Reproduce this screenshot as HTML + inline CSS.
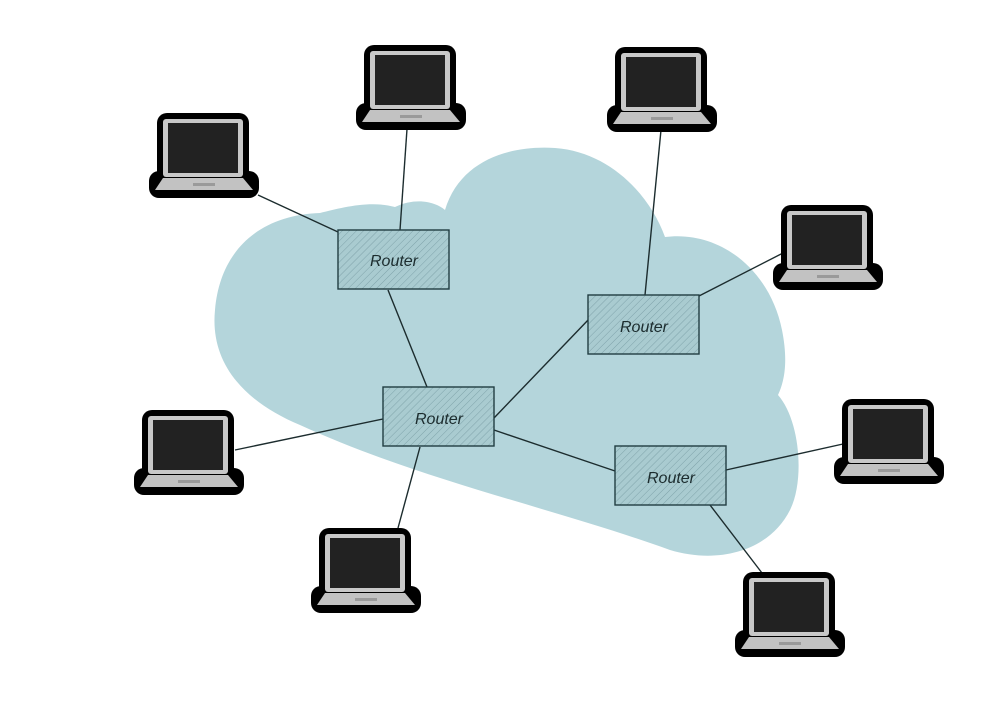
<!DOCTYPE html>
<html><head><meta charset="utf-8"><style>html,body{margin:0;padding:0;background:#fff}svg{display:block}</style></head><body>
<svg width="1007" height="705" viewBox="0 0 1007 705" xmlns="http://www.w3.org/2000/svg">
<defs>
<pattern id="h" width="5" height="5" patternUnits="userSpaceOnUse" patternTransform="rotate(45)">
<rect width="5" height="5" fill="#a9cbd0"/><line x1="0" y1="0" x2="0" y2="5" stroke="#7fa3aa" stroke-width="1"/>
</pattern>
<g id="lap">
<rect x="8" y="0" width="92" height="70" rx="10" fill="#000"/>
<rect x="0" y="58" width="110" height="27" rx="10" fill="#000"/>
<rect x="14" y="6" width="80" height="58" rx="3" fill="#c8c8c8"/>
<rect x="19" y="10" width="70" height="50" fill="#222"/>
<polygon points="14,65 94,65 104,77 6,77" fill="#c2c2c2"/>
<rect x="44" y="70" width="22" height="3" fill="#9a9a9a"/>
</g>
</defs>
<path fill="#b4d5db" d="M300,425 C240,400 210,360 215,310 C220,250 260,215 320,213 C340,208 370,200 395,207 C420,195 440,205 445,210 C460,160 510,145 555,148 C610,152 650,195 665,237 C720,230 770,270 782,330 C788,360 785,380 778,395 C800,420 805,480 790,510 C770,550 720,565 670,550 C560,510 420,480 300,425 Z"/>
<g stroke="#1c2c2e" stroke-width="1.4" fill="none">
<line x1="407" y1="129" x2="400" y2="230"/>
<line x1="258" y1="195" x2="338" y2="232"/>
<line x1="388" y1="290" x2="427" y2="387"/>
<line x1="494" y1="418" x2="590" y2="318"/>
<line x1="661" y1="130" x2="645" y2="295"/>
<line x1="785" y1="252" x2="699" y2="296"/>
<line x1="235" y1="450" x2="383" y2="419"/>
<line x1="398" y1="528" x2="420" y2="447"/>
<line x1="494" y1="430" x2="615" y2="471"/>
<line x1="852" y1="442" x2="726" y2="470"/>
<line x1="710" y1="505" x2="762" y2="573"/>
</g>
<g stroke="#213d42" stroke-width="1.4" fill="url(#h)">
<rect x="338" y="230" width="111" height="59"/>
<rect x="588" y="295" width="111" height="59"/>
<rect x="383" y="387" width="111" height="59"/>
<rect x="615" y="446" width="111" height="59"/>
</g>
<g font-family="Liberation Sans, sans-serif" font-size="16" fill="#1c2c2e" text-anchor="middle" font-style="italic">
<text x="394" y="266">Router</text>
<text x="644" y="332">Router</text>
<text x="439" y="424">Router</text>
<text x="671" y="483">Router</text>
</g>
<use href="#lap" x="356" y="45"/>
<use href="#lap" x="149" y="113"/>
<use href="#lap" x="607" y="47"/>
<use href="#lap" x="773" y="205"/>
<use href="#lap" x="134" y="410"/>
<use href="#lap" x="311" y="528"/>
<use href="#lap" x="834" y="399"/>
<use href="#lap" x="735" y="572"/>
</svg>
</body></html>
